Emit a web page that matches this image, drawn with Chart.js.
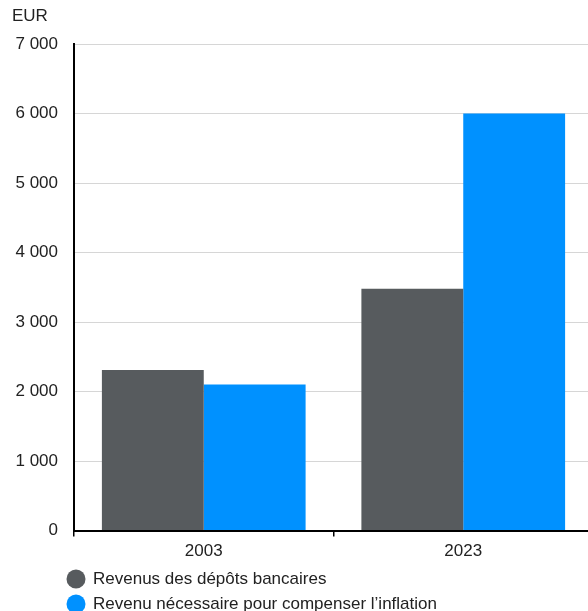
<!DOCTYPE html>
<html lang="fr">
<head>
<meta charset="utf-8">
<title>Revenus des dépôts bancaires</title>
<script src="https://cdn.jsdelivr.net/npm/chart.js@4/dist/chart.umd.min.js"></script>
<style>
  html, body { margin: 0; padding: 0; background: #fff; overflow: hidden; }
  /* la zone du graphique deborde un peu a droite */
  #wrap { position: relative; width: 593px; height: 611px; }
</style>
</head>
<body>
<div id="wrap"><canvas id="grafica-barras"></canvas></div>
<script>
// annees et montants (EUR)
var annees = ["2003", "2023"];
var revenusDepots = [2310, 3480];
var revenuInflation = [2100, 6000];
var nomsSeries = ["Revenus des dépôts bancaires", "Revenu nécessaire pour compenser l’inflation"];
var axeY = { min: 0, max: 7000, pas: 1000, unite: "EUR" };

var police = '"Liberation Sans", Arial, sans-serif';
var couleurTexte = "#222";

function milliers(v) {
  return String(v).replace(/\B(?=(\d{3})+(?!\d))/g, " ");
}

// legende sur deux lignes, sous l'axe des x
var legendeLignes = {
  id: "legendeLignes",
  afterDraw: function (chart) {
    var ctx = chart.ctx;
    var haut = chart.scales.x.bottom;
    chart.data.datasets.forEach(function (ds, i) {
      var y = haut + 12 + i * 25;
      ctx.save();
      ctx.fillStyle = ds.backgroundColor;
      ctx.beginPath();
      ctx.arc(76, y, 9.5, 0, Math.PI * 2);
      ctx.fill();
      ctx.fillStyle = couleurTexte;
      ctx.font = "17px " + police;
      ctx.textBaseline = "middle";
      ctx.textAlign = "left";
      ctx.fillText(ds.label, 93, y);
      ctx.restore();
    });
  }
};

var contexte = document.getElementById("grafica-barras");
var grafica = new Chart(contexte, {
  type: "bar",
  data: {
    labels: annees,
    datasets: [{
      label: nomsSeries[0],
      data: revenusDepots,
      backgroundColor: "#575b5e",
      categoryPercentage: 0.785,
      barPercentage: 1.0
    }, {
      label: nomsSeries[1],
      data: revenuInflation,
      backgroundColor: "#0091ff",
      categoryPercentage: 0.785,
      barPercentage: 1.0
    }]
  },
  options: {
    responsive: true,
    maintainAspectRatio: false,
    animation: false,
    layout: { padding: { left: 12, right: 0, top: 0, bottom: 44 } },
    plugins: {
      legend: { display: false },
      tooltip: { enabled: false },
      title: {
        display: true,
        text: axeY.unite,
        align: "start",
        color: couleurTexte,
        font: { family: police, size: 17, weight: "normal" },
        padding: { top: 6, bottom: 17.6 }
      }
    },
    scales: {
      x: {
        grid: { drawOnChartArea: false, drawTicks: true, tickLength: 6, color: "#000", lineWidth: 1.5 },
        border: { color: "#000", width: 2 },
        ticks: { color: couleurTexte, font: { family: police, size: 17 }, padding: 5 }
      },
      y: {
        min: axeY.min,
        max: axeY.max,
        afterFit: function (scale) { scale.width = 62; },
        grid: { color: "#d6d6d6", lineWidth: 1, drawTicks: false },
        border: { color: "#000", width: 2 },
        ticks: {
          stepSize: axeY.pas,
          padding: 16,
          color: couleurTexte,
          font: { family: police, size: 17 },
          callback: function (v) { return milliers(v); }
        }
      }
    }
  },
  plugins: [legendeLignes]
});
</script>
</body>
</html>
